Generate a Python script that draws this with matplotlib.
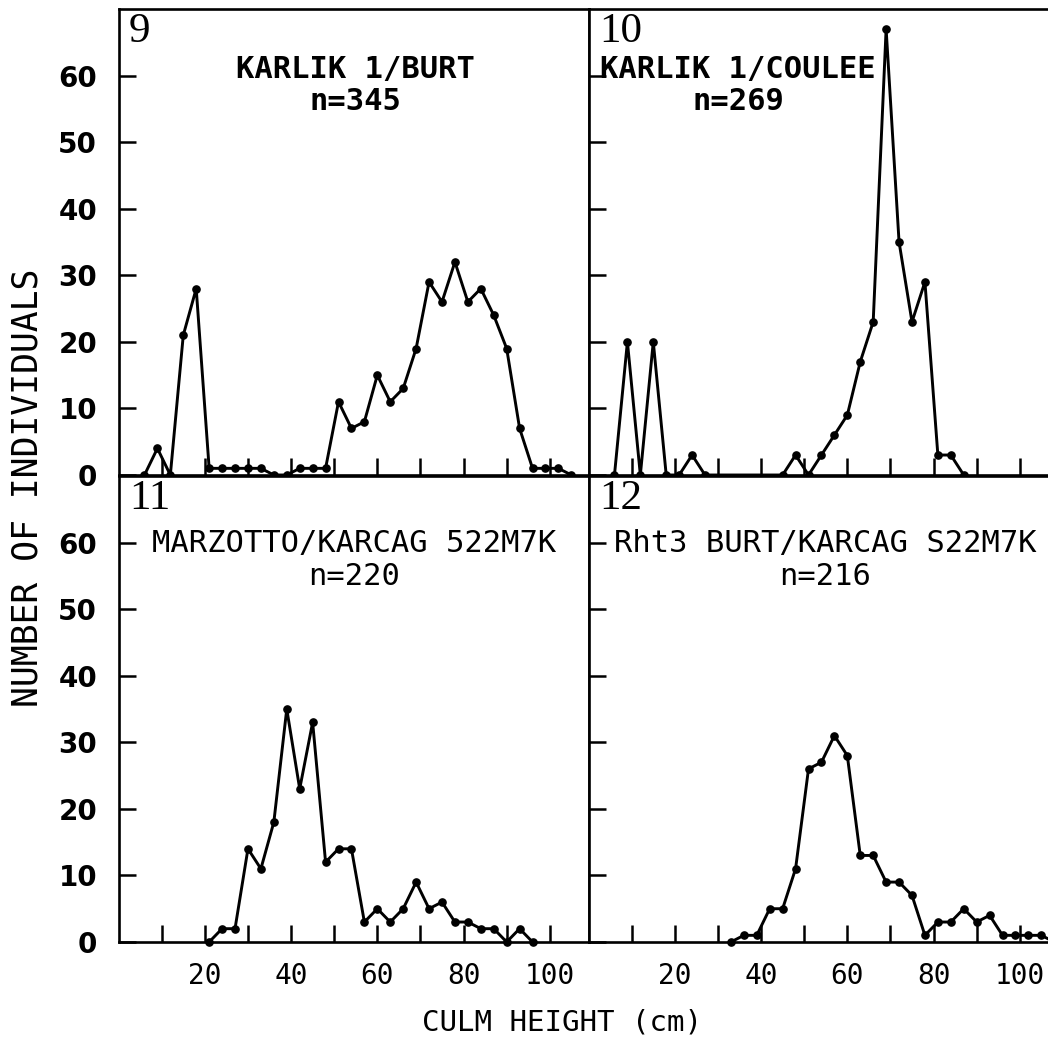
import matplotlib.pyplot as plt

# culm height classes (cm) and number of individuals, one pair per cross
heights9 = [6, 9, 12, 15, 18, 21, 24, 27, 30, 33, 36, 39, 42, 45, 48, 51, 54,
            57, 60, 63, 66, 69, 72, 75, 78, 81, 84, 87, 90, 93, 96, 99, 102, 105]
counts9 = [0, 4, 0, 21, 28, 1, 1, 1, 1, 1, 0, 0, 1, 1, 1, 11, 7,
           8, 15, 11, 13, 19, 29, 26, 32, 26, 28, 24, 19, 7, 1, 1, 1, 0]

heights10 = [6, 9, 12, 15, 18, 21, 24, 27, 45, 48, 51, 54, 57, 60, 63, 66,
             69, 72, 75, 78, 81, 84, 87]
counts10 = [0, 20, 0, 20, 0, 0, 3, 0, 0, 3, 0, 3, 6, 9, 17, 23,
            67, 35, 23, 29, 3, 3, 0]

heights11 = [21, 24, 27, 30, 33, 36, 39, 42, 45, 48, 51, 54, 57, 60, 63, 66,
             69, 72, 75, 78, 81, 84, 87, 90, 93, 96]
counts11 = [0, 2, 2, 14, 11, 18, 35, 23, 33, 12, 14, 14, 3, 5, 3, 5,
            9, 5, 6, 3, 3, 2, 2, 0, 2, 0]

heights12 = [33, 36, 39, 42, 45, 48, 51, 54, 57, 60, 63, 66, 69, 72, 75, 78,
             81, 84, 87, 90, 93, 96, 99, 102, 105, 108]
counts12 = [0, 1, 1, 5, 5, 11, 26, 27, 31, 28, 13, 13, 9, 9, 7, 1,
            3, 3, 5, 3, 4, 1, 1, 1, 1, 0]

panel_nums = ["9", "10", "11", "12"]
crosses = ["KARLIK 1/BURT", "KARLIK 1/COULEE",
           "MARZOTTO/KARCAG 522M7K", "Rht3 BURT/KARCAG S22M7K"]
sizes = ["n=345", "n=269", "n=220", "n=216"]

xticks = [10, 20, 30, 40, 50, 60, 70, 80, 90, 100]
xlabels = ["", "20", "", "40", "", "60", "", "80", "", "100"]
yticks = [0, 10, 20, 30, 40, 50, 60]

W, H = 1048, 1039
fig = plt.figure(figsize=(W / 100, H / 100), dpi=100)


def rect(x0, ytop, w, h):
    return [x0 / W, 1 - (ytop + h) / H, w / W, h / H]


# pixel layout of the four panels (right column runs off the page)
pw, ph = 470, 466
boxes = [rect(118.6, 9, pw, ph), rect(588.6, 9, pw, ph),
         rect(118.6, 476, pw, ph), rect(588.6, 476, pw, ph)]
data = [(heights9, counts9), (heights10, counts10),
        (heights11, counts11), (heights12, counts12)]
title_x = [0.503, 0.318, 0.501, 0.503]

mono = "DejaVu Sans Mono"

for i in range(4):
    ax = fig.add_axes(boxes[i])
    xs, ys = data[i]
    ax.plot(xs, ys, color="black", lw=2.1, marker="o", ms=5.2, clip_on=False)
    ax.set_xlim(0, 109)
    ax.set_ylim(0, 70)
    for s in ax.spines.values():
        s.set_linewidth(1.9)
    ax.set_xticks(xticks)
    ax.set_yticks(yticks)
    ax.tick_params(direction="in", length=12, width=1.8)
    ax.tick_params(axis="y", pad=15.5, labelsize=20)
    ax.tick_params(axis="x", pad=14.5, labelsize=20)
    if i < 2:
        ax.set_xticklabels([])
    else:
        ax.set_xticklabels(xlabels, family=mono)
    if i % 2 == 1:
        ax.set_yticklabels([])
    else:
        ax.set_yticklabels([str(v) for v in yticks], family="DejaVu Sans",
                           weight="bold")

    top = i < 2
    ax.text(0.022, 0.992, panel_nums[i], transform=ax.transAxes,
            family="Liberation Serif", fontsize=31, va="top", ha="left")
    wt = "bold" if top else "normal"
    y1 = 0.871 if top else 0.855
    y2 = 0.802 if top else 0.784
    ax.text(title_x[i], y1, crosses[i], transform=ax.transAxes, family=mono,
            weight=wt, fontsize=22, ha="center", va="center")
    ax.text(title_x[i], y2, sizes[i], transform=ax.transAxes, family=mono,
            weight=wt, fontsize=22, ha="center", va="center")

fig.text(28 / W, 1 - 488 / H, "NUMBER OF INDIVIDUALS", rotation=90,
         family=mono, fontsize=25, ha="center", va="center")
fig.text(562 / W, 1 - 1023 / H, "CULM HEIGHT (cm)", family=mono,
         fontsize=21, ha="center", va="center")

fig.savefig("out.png", dpi=100)
